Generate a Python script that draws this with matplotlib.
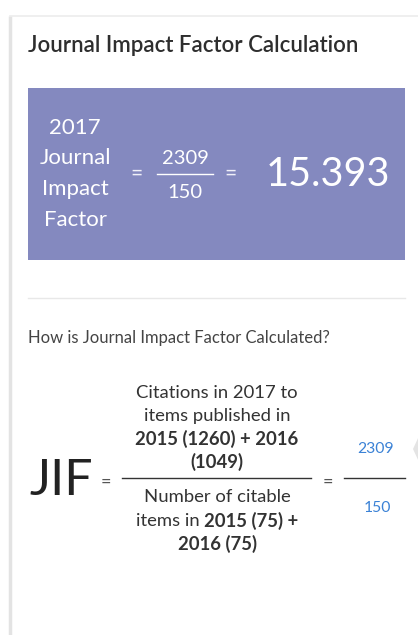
import matplotlib
matplotlib.use("Agg")
import matplotlib.pyplot as plt
from matplotlib.patches import Rectangle, Polygon

# ---- data ----
jif_year = 2017
pub_years = [2015, 2016]
citations = [1260, 1049]
citable_items = [75, 75]

total_cit = sum(citations)
total_items = sum(citable_items)
jif = total_cit / total_items

FONT = "Lato"
W, H = 418, 635
fig = plt.figure(figsize=(W / 100, H / 100), dpi=100)
ax = fig.add_axes([0, 0, 1, 1])
ax.set_xlim(0, W)
ax.set_ylim(H, 0)
ax.axis("off")

# card border
ax.plot([10, 10], [16, H], color="#e3e3e3", lw=2.5, solid_capstyle="butt")
ax.plot([10, W], [16, 16], color="#ececec", lw=1.2)

# title
ax.text(28, 46, "Journal Impact Factor Calculation", fontsize=16, fontweight="semibold",
        family=FONT, color="#2e2e2e", va="center", ha="left")

# purple box
ax.add_patch(Rectangle((28, 88), 377, 172, color="#8489bf", lw=0))
for i, w in enumerate([str(jif_year), "Journal", "Impact", "Factor"]):
    ax.text(75, 128 + i * 30.5, w, fontsize=16, family=FONT, color="white", ha="center", va="center")
ax.text(137, 174, "=", fontsize=15, family=FONT, color="#f0f0f8", ha="center", va="center")
ax.text(185, 158, str(total_cit), fontsize=14.5, family=FONT, color="white", ha="center", va="center")
ax.plot([157, 213], [174, 174], color="white", lw=1)
ax.text(185, 192, str(total_items), fontsize=14.5, family=FONT, color="white", ha="center", va="center")
ax.text(231, 174, "=", fontsize=15, family=FONT, color="#f0f0f8", ha="center", va="center")
ax.text(328, 174, f"{jif:.3f}", fontsize=28.5, family=FONT, color="white", ha="center", va="center")

# separator
ax.plot([28, 405], [298, 298], color="#e8e8e8", lw=1)

ax.text(28, 338, "How is Journal Impact Factor Calculated?", fontsize=12, family=FONT,
        color="#444444", ha="left", va="center")

# JIF formula
ax.text(29, 481, "JIF", fontsize=36, family=FONT, fontweight="normal", color="#222222",
        ha="left", va="center")
ax.text(106, 482, "=", fontsize=13, family=FONT, color="#555555", ha="center", va="center")

fig.canvas.draw()
renderer = fig.canvas.get_renderer()


def mixed_line(x_center, y, parts, size=13.3, color="#333333"):
    """parts: list of (text, bold)"""
    inv = ax.transData.inverted()
    widths = []
    objs = []
    for txt, bold in parts:
        t = ax.text(0, y, txt, fontsize=size, family=FONT, fontweight="bold" if bold else "normal",
                    color=color, ha="left", va="center")
        bb = t.get_window_extent(renderer)
        x0 = inv.transform((bb.x0, 0))[0]
        x1 = inv.transform((bb.x1, 0))[0]
        widths.append(x1 - x0)
        objs.append(t)
    total = sum(widths)
    x = x_center - total / 2
    for t, w in zip(objs, widths):
        t.set_x(x)
        x += w


cx = 217
num_lines = [
    [("Citations in %d to" % jif_year, False)],
    [("items published in", False)],
    [("%d (%d) + %d" % (pub_years[0], citations[0], pub_years[1]), True)],
    [("(%d)" % citations[1], True)],
]
for i, parts in enumerate(num_lines):
    mixed_line(cx, 393 + i * 23, parts)
ax.plot([122, 311], [478, 478], color="#333333", lw=1)
den_lines = [
    [("Number of citable", False)],
    [("items in ", False), ("%d (%d) +" % (pub_years[0], citable_items[0]), True)],
    [("%d (%d)" % (pub_years[1], citable_items[1]), True)],
]
for i, parts in enumerate(den_lines):
    mixed_line(cx, 497 + i * 23.5, parts)

ax.text(328, 482, "=", fontsize=13, family=FONT, color="#555555", ha="center", va="center")
ax.plot([344, 405], [478, 478], color="#333333", lw=1)
ax.text(376, 449, str(total_cit), fontsize=11.3, family=FONT, color="#3b82d6", ha="center", va="center")
ax.text(377, 508, str(total_items), fontsize=11.3, family=FONT, color="#3b82d6", ha="center", va="center")

# partial gray element at right edge
ax.add_patch(Polygon([(419, 436), (413, 449), (419, 462)], closed=True, color="#e4e4e4", lw=0))

fig.savefig("out.png", dpi=100, facecolor="white")
